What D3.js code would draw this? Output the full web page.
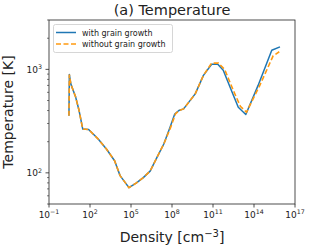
<!DOCTYPE html>
<html><head><meta charset="utf-8">
<script src="https://cdn.jsdelivr.net/npm/d3@7"></script>
<style>body{margin:0;background:#fff}svg{display:block;font-family:"DejaVu Sans",sans-serif}</style>
</head><body><div id="c"></div>
<script>
// Data (log10 density [cm^-3], temperature [K])
const logDensityWith = [0.46,0.49,0.6,0.95,1.2,1.47,1.9,2.6,3.2,3.8,4.2,4.85,5.4,5.9,6.4,6.9,7.4,7.85,8.2,8.5,8.85,9.7,10.3,10.9,11.35,11.75,12.4,12.85,13.4,14.3,15.3,15.9];
const tempWith       = [357,890,720,540,400,265,262,212,170,131,94,72,80,90,104,141,190,275,370,400,415,580,875,1120,1120,980,600,430,366,700,1530,1650];
const logDensityWithout = [0.46,0.49,0.6,0.95,1.2,1.47,1.9,2.6,3.2,3.8,4.2,4.85,5.4,5.9,6.4,6.9,7.4,7.9,8.25,8.5,8.85,9.7,10.3,10.9,11.4,11.85,12.5,13.0,13.45,14.4,15.4,15.85];
const tempWithout       = [357,890,720,540,400,265,262,212,170,131,94,72,80,90,104,141,190,275,370,400,415,580,875,1150,1150,1000,620,440,385,690,1350,1480];
const seriesNames = ["with grain growth","without grain growth"];
const xTickExps = [-1,2,5,8,11,14,17];
const yTickExps = [2,3];

const W=311,H=248, L=49, R=295, T=20, B=204;
const svg=d3.select("#c").append("svg").attr("width",W).attr("height",H);
const x=d3.scaleLog().domain([1e-1,1e17]).range([L,R]);
const y=d3.scaleLog().domain([50,3000]).range([B,T]);
const ink="#222";

// minor y ticks
const minor=[];
for(let k=1;k<=3;k++)for(let m=2;m<=9;m++){const v=m*Math.pow(10,k);if(v>=50&&v<=3000)minor.push(v);}
svg.append("g").selectAll("line").data(minor).join("line")
 .attr("x1",L).attr("x2",L-2).attr("y1",d=>y(d)).attr("y2",d=>y(d)).attr("stroke",ink).attr("stroke-width",0.6);
svg.append("g").selectAll("line").data(yTickExps).join("line")
 .attr("x1",L).attr("x2",L-3.5).attr("y1",d=>y(Math.pow(10,d))).attr("y2",d=>y(Math.pow(10,d))).attr("stroke",ink).attr("stroke-width",0.8);
svg.append("g").selectAll("line").data(xTickExps).join("line")
 .attr("x1",d=>x(Math.pow(10,d))).attr("x2",d=>x(Math.pow(10,d))).attr("y1",B).attr("y2",B+3.5).attr("stroke",ink).attr("stroke-width",0.8);

function powLabel(sel,e,fs){
  sel.append("tspan").text("10");
  sel.append("tspan").attr("dy",-fs*0.42).attr("font-size",fs*0.7).text(String(e).replace("-","\u2212"));
}
xTickExps.forEach(e=>{
  const t=svg.append("text").attr("x",x(Math.pow(10,e))).attr("y",218).attr("text-anchor","middle").attr("font-size",9).attr("fill",ink);
  powLabel(t,e,9);
});
yTickExps.forEach(e=>{
  const t=svg.append("text").attr("x",L-7).attr("y",y(Math.pow(10,e))+3.5).attr("text-anchor","end").attr("font-size",9).attr("fill",ink);
  powLabel(t,e,9);
});

// lines
const line=d3.line().x(d=>x(Math.pow(10,d[0]))).y(d=>y(d[1]));
const g=svg.append("g");
g.append("path").datum(d3.zip(logDensityWith,tempWith)).attr("d",line).attr("fill","none").attr("stroke","#1f77b4").attr("stroke-width",1.5).attr("stroke-linejoin","round");
g.append("path").datum(d3.zip(logDensityWithout,tempWithout)).attr("d",line).attr("fill","none").attr("stroke","#ff9a10").attr("stroke-width",1.6).attr("stroke-dasharray","5,2.5");

// frame
svg.append("rect").attr("x",L).attr("y",T).attr("width",R-L).attr("height",B-T).attr("fill","none").attr("stroke",ink).attr("stroke-width",0.8);

// legend
const lg=svg.append("g");
lg.append("rect").attr("x",53.5).attr("y",24.5).attr("width",119).attr("height",28).attr("rx",2).attr("fill","#fff").attr("fill-opacity",0.8).attr("stroke","#ccc").attr("stroke-width",0.8);
lg.append("line").attr("x1",56).attr("x2",76).attr("y1",32.5).attr("y2",32.5).attr("stroke","#1f77b4").attr("stroke-width",1.5);
lg.append("line").attr("x1",56).attr("x2",76).attr("y1",44).attr("y2",44).attr("stroke","#ff9a10").attr("stroke-width",1.6).attr("stroke-dasharray","5,2.5");
lg.append("text").attr("x",82).attr("y",35.5).attr("font-size",8).attr("fill",ink).text(seriesNames[0]);
lg.append("text").attr("x",82).attr("y",47).attr("font-size",8).attr("fill",ink).text(seriesNames[1]);

// title and axis labels
svg.append("text").attr("x",(L+R)/2).attr("y",14.5).attr("text-anchor","middle").attr("font-size",14.5).attr("fill",ink).text("(a) Temperature");
const xl=svg.append("text").attr("x",(L+R)/2).attr("y",242).attr("text-anchor","middle").attr("font-size",14).attr("fill",ink);
xl.append("tspan").text("Density [cm");
xl.append("tspan").attr("dy",-5.5).attr("font-size",10).text("\u22123");
xl.append("tspan").attr("dy",5.5).text("]");
svg.append("text").attr("transform",`translate(13,${(T+B)/2}) rotate(-90)`).attr("text-anchor","middle").attr("font-size",14).attr("fill",ink).text("Temperature [K]");
</script></body></html>
